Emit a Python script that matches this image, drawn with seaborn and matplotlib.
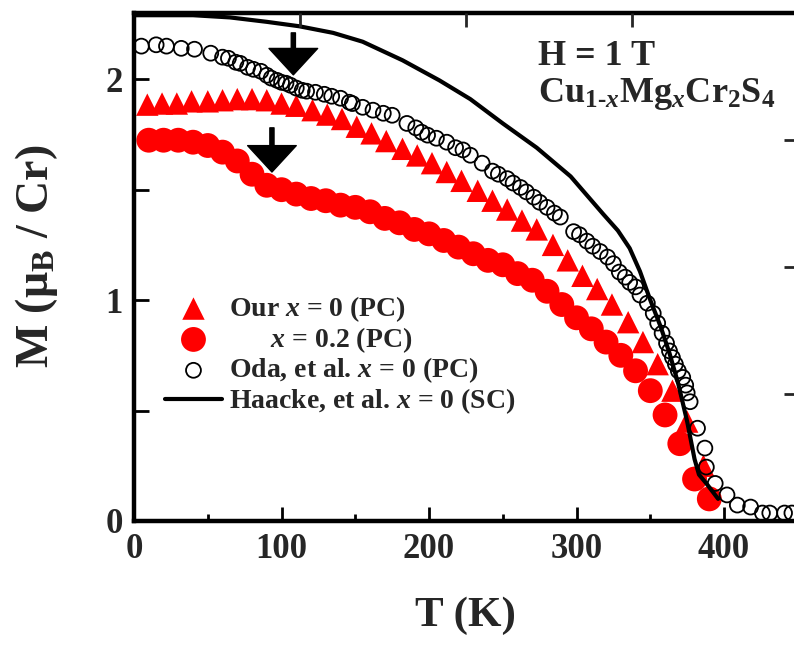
import numpy as np
import pandas as pd
import matplotlib
matplotlib.use("Agg")
import matplotlib.pyplot as plt
import seaborn as sns

# ---- data -------------------------------------------------------------
# Our x = 0 (polycrystal)
t_our = [9, 19, 29, 39, 50, 60, 70, 80, 90, 100, 110, 121, 131, 141, 151, 161,
         171, 182, 192, 202, 212, 222, 233, 243, 253, 263, 273, 284, 294, 304,
         314, 324, 335, 345, 355, 365, 375, 386]
m_our = [1.885, 1.89, 1.89, 1.90, 1.90, 1.905, 1.91, 1.91, 1.905, 1.89, 1.88,
         1.86, 1.84, 1.82, 1.785, 1.755, 1.72, 1.685, 1.655, 1.62, 1.58, 1.54,
         1.495, 1.45, 1.41, 1.36, 1.32, 1.25, 1.18, 1.11, 1.05, 0.98, 0.90,
         0.81, 0.71, 0.59, 0.45, 0.25]

# x = 0.2 (polycrystal)
t_x02 = [10, 20, 30, 40, 50, 60, 70, 80, 90, 100, 110, 120, 130, 140, 150, 160,
         170, 180, 190, 200, 210, 220, 230, 240, 250, 260, 270, 280, 290, 300,
         310, 320, 330, 340, 350, 360, 370, 380, 390]
m_x02 = [1.724, 1.724, 1.724, 1.715, 1.70, 1.67, 1.63, 1.57, 1.52, 1.50, 1.48,
         1.46, 1.45, 1.43, 1.42, 1.40, 1.37, 1.35, 1.32, 1.30, 1.27, 1.24, 1.21,
         1.18, 1.16, 1.12, 1.09, 1.04, 0.98, 0.92, 0.87, 0.81, 0.75, 0.68, 0.59,
         0.48, 0.35, 0.19, 0.10]

# Oda et al., x = 0 (polycrystal)
t_oda = [5, 15, 22, 32, 41, 52, 60, 64, 69, 72, 77, 81, 86, 90, 93, 97, 100,
         103, 106, 110, 114, 117, 123, 129, 134, 140, 146, 148, 155, 162, 169,
         175, 185, 191, 195, 199, 205, 212, 218, 223, 228, 236, 243, 247, 253,
         257, 262, 266, 271, 275, 280, 285, 289, 298, 302, 307, 311, 316, 321,
         325, 329, 333, 336, 340, 343, 348, 352, 355, 358, 361, 363, 365, 367,
         369, 372, 374, 375, 377, 382, 387, 388, 394, 402, 409, 418, 426, 431,
         441, 446]
m_oda = [2.15, 2.156, 2.15, 2.14, 2.136, 2.118, 2.10, 2.095, 2.077, 2.072,
         2.054, 2.045, 2.036, 2.018, 2.005, 1.995, 1.986, 1.982, 1.973, 1.96,
         1.95, 1.946, 1.941, 1.932, 1.923, 1.914, 1.896, 1.89, 1.873, 1.86,
         1.846, 1.837, 1.80, 1.78, 1.76, 1.747, 1.733, 1.715, 1.69, 1.68, 1.656,
         1.62, 1.584, 1.57, 1.55, 1.53, 1.51, 1.49, 1.466, 1.443, 1.42, 1.394,
         1.376, 1.31, 1.296, 1.267, 1.244, 1.22, 1.195, 1.165, 1.127, 1.104,
         1.08, 1.06, 1.023, 0.986, 0.94, 0.896, 0.85, 0.805, 0.77, 0.74, 0.71,
         0.68, 0.65, 0.615, 0.58, 0.54, 0.42, 0.33, 0.244, 0.17, 0.118, 0.072,
         0.063, 0.036, 0.036, 0.036, 0.036]

# Haacke et al., x = 0 (single crystal)
t_haacke = [0, 20, 40, 65, 90, 112, 135, 155, 182, 207, 228, 250, 273, 296,
            318, 328, 336, 343, 350, 357, 363, 369, 375, 380, 383, 388, 396]
m_haacke = [2.29, 2.29, 2.29, 2.28, 2.26, 2.24, 2.21, 2.17, 2.086, 1.995, 1.91,
            1.80, 1.69, 1.56, 1.39, 1.315, 1.235, 1.13, 1.0, 0.88, 0.76, 0.62,
            0.45, 0.28, 0.21, 0.17, 0.10]

labels = ["Our $x$ = 0 (PC)", "      $x$ = 0.2 (PC)",
          "Oda, et al. $x$ = 0 (PC)", "Haacke, et al. $x$ = 0 (SC)"]

# kink positions marked with arrows: (T, tip M, tail M)
arrows = [(108, 2.02, 2.21), (93.5, 1.58, 1.78)]

# ---- style ------------------------------------------------------------
sns.set_theme(style="ticks")
plt.rcParams["font.family"] = ["Liberation Serif", "DejaVu Serif"]
plt.rcParams["font.weight"] = "bold"
plt.rcParams["mathtext.fontset"] = "custom"
plt.rcParams["mathtext.rm"] = "Liberation Serif:bold"
plt.rcParams["mathtext.bf"] = "Liberation Serif:bold"
plt.rcParams["mathtext.it"] = "Liberation Serif:italic:bold"

fig = plt.figure(figsize=(7.94, 6.5), dpi=100)
ax = fig.add_axes([0.1688, 0.1985, 0.836, 0.7815])

red = "#ff0000"
sns.scatterplot(x=t_our, y=m_our, marker="^", s=260, color=red,
                edgecolor="none", linewidth=0, ax=ax, label=labels[0], zorder=2)
sns.scatterplot(x=t_x02, y=m_x02, marker="o", s=320, color=red,
                edgecolor="none", linewidth=0, ax=ax, label=labels[1], zorder=2)
sns.scatterplot(x=t_oda, y=m_oda, marker="o", s=115, facecolor="none",
                edgecolor="black", linewidth=1.3, ax=ax, label=labels[2], zorder=3)
sns.lineplot(x=t_haacke, y=m_haacke, color="black", linewidth=3.0, sort=False,
             estimator=None, ax=ax, label=labels[3], zorder=4)

ax.set_xlim(0, 450)
ax.set_ylim(0, 2.3)
ax.set_xticks([0, 100, 200, 300, 400])
ax.set_xticks(np.arange(50, 450, 100), minor=True)
ax.set_yticks([0, 1, 2])
ax.set_yticks([0.5, 1.5], minor=True)
ax.tick_params(axis="both", which="both", direction="in", labelsize=25,
               width=2.0, color="black")
ax.tick_params(axis="x", which="major", length=10, pad=9)
ax.tick_params(axis="x", which="minor", length=5)
ax.tick_params(axis="y", which="both", length=11, pad=8)
for s in ax.spines.values():
    s.set_linewidth(3.2)
    s.set_color("black")

# secondary scales on the top and right edges (ticks only)
axt = ax.twiny()
axt.set_xlim(0, 4)
axt.set_xticks([1, 2, 3])
axt.tick_params(axis="x", direction="in", length=10, width=2.0,
                labeltop=False, top=True)
axr = ax.twinx()
axr.set_ylim(0, 4)
axr.set_yticks([1, 2, 3])
axr.tick_params(axis="y", direction="in", length=10, width=2.0,
                labelright=False, right=True)
for a in (axt, axr):
    for s in a.spines.values():
        s.set_visible(False)

ax.set_xlabel("T (K)", fontsize=31, fontweight="bold", labelpad=22)
ax.set_ylabel("M (μ$_\\mathrm{B}$ / Cr)", fontsize=33, fontweight="bold")
ax.yaxis.set_label_coords(-0.112, 0.52)

# field and composition labels
ax.text(274, 2.063, "H = 1 T", fontsize=26, fontweight="bold", va="baseline")
ax.text(274, 1.896, "Cu$_{\\text{1-}x}$Mg$_x$Cr$_2$S$_4$", fontsize=26,
        fontweight="bold", va="baseline")

for tx, tip, tail in arrows:
    ax.annotate("", xy=(tx, tip), xytext=(tx, tail),
                arrowprops=dict(facecolor="black", edgecolor="black",
                                width=3, headwidth=35, headlength=19,
                                shrink=0), zorder=5)

handles, labs = ax.get_legend_handles_labels()
order = [labs.index(l) for l in labels]
leg = ax.legend([handles[i] for i in order], [labs[i] for i in order],
                loc="upper left", bbox_to_anchor=(165 / 794, 1 - 294 / 650),
                bbox_transform=fig.transFigure, frameon=False, fontsize=20,
                handlelength=2.05, handletextpad=0.25, labelspacing=0.04,
                borderpad=0, borderaxespad=0)

fig.savefig("out.png", dpi=100)
